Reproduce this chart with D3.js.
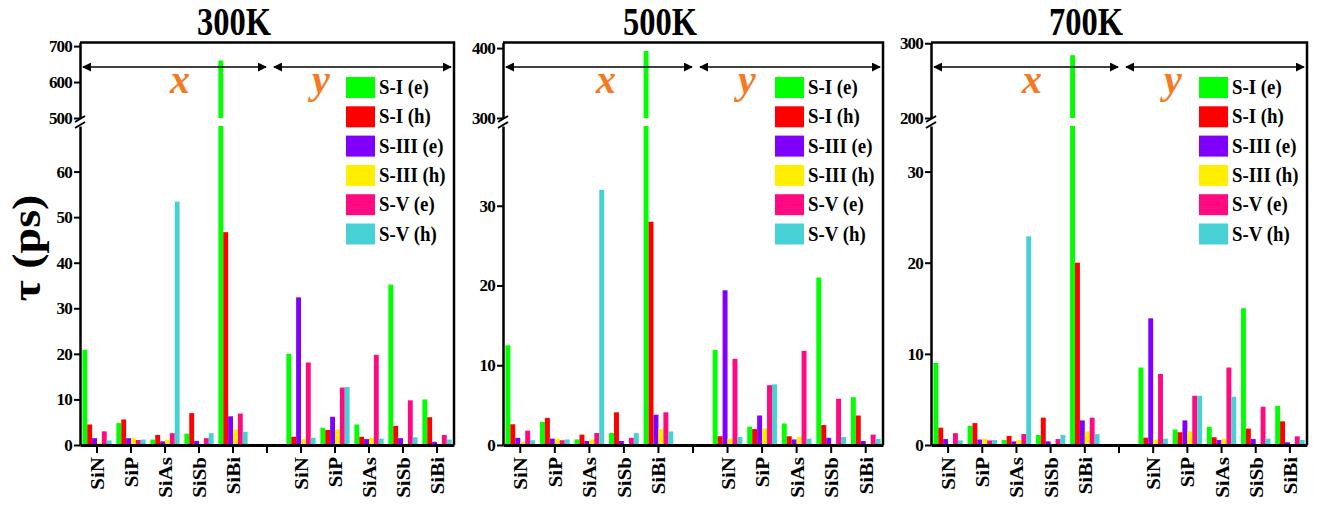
<!DOCTYPE html>
<html><head><meta charset="utf-8">
<script src="https://cdn.jsdelivr.net/npm/d3@7"></script>
<style>
html,body{margin:0;padding:0;background:#fff;}
svg text{font-family:"Liberation Serif","Times New Roman",serif;font-weight:bold;}
</style></head>
<body>
<svg id="chart" width="1317" height="505"></svg>
<script>
// ---------------- data ----------------
const temperatures = ["300K", "500K", "700K"];
const compounds = ["SiN", "SiP", "SiAs", "SiSb", "SiBi"];
const directions = ["x", "y"];
const seriesNames = ["S-I (e)", "S-I (h)", "S-III (e)", "S-III (h)", "S-V (e)", "S-V (h)"];
const seriesColors = ["#00ff00", "#ff0000", "#8000ff", "#ffee00", "#ff0a80", "#48d1d4"];

// values per series: 5 x-direction compounds followed by 5 y-direction compounds
const tau300 = [
  [20.9, 4.8, 1.2, 2.5, 660,   20.0, 3.8, 4.5, 35.2, 10.0],
  [4.5, 5.6, 2.2, 7.0, 46.7,   1.8, 3.3, 1.8, 4.2, 6.1],
  [1.5, 1.5, 0.8, 0.9, 6.3,    32.4, 6.2, 1.3, 1.5, 0.7],
  [0.5, 1.5, 1.2, 0.2, 3.4,    1.3, 3.4, 1.6, 0.3, 0.1],
  [3.0, 1.1, 2.6, 1.5, 6.9,    18.1, 12.6, 19.8, 9.8, 2.2],
  [1.0, 1.2, 53.4, 2.6, 2.9,   1.6, 12.7, 1.4, 1.7, 1.2]
];
const tau500 = [
  [12.5, 2.9, 0.7, 1.5, 396,   11.9, 2.3, 2.7, 21.0, 6.0],
  [2.6, 3.4, 1.3, 4.1, 28.0,   1.1, 2.0, 1.1, 2.5, 3.7],
  [0.9, 0.8, 0.5, 0.5, 3.8,    19.4, 3.7, 0.7, 0.9, 0.5],
  [0.4, 0.8, 0.7, 0.1, 2.0,    0.8, 2.1, 1.0, 0.1, 0.05],
  [1.8, 0.6, 1.5, 0.9, 4.1,    10.8, 7.5, 11.8, 5.8, 1.3],
  [0.6, 0.7, 32.0, 1.5, 1.7,   1.0, 7.6, 0.8, 1.0, 0.75]
];
const tau700 = [
  [9.0, 2.1, 0.55, 1.1, 284,   8.5, 1.7, 2.0, 15.0, 4.3],
  [1.9, 2.4, 1.0, 3.0, 20.0,   0.8, 1.4, 0.85, 1.8, 2.6],
  [0.65, 0.6, 0.4, 0.4, 2.7,   13.9, 2.7, 0.55, 0.65, 0.3],
  [0.1, 0.7, 0.55, 0.1, 1.5,   0.6, 1.5, 0.7, 0.1, 0.05],
  [1.3, 0.5, 1.2, 0.65, 3.0,   7.8, 5.4, 8.5, 4.2, 0.95],
  [0.5, 0.55, 22.9, 1.1, 1.2,  0.7, 5.4, 5.3, 0.7, 0.55]
];
// broken axis: lower and upper domains, tick labels
const lowerDomains = [[0, 70], [0, 40], [0, 35]];
const upperDomains = [[500, 710], [300, 408], [200, 301]];
const lowerTicks = [[0, 10, 20, 30, 40, 50, 60], [0, 10, 20, 30], [0, 10, 20, 30]];
const upperTicks = [[500, 600, 700], [300, 400], [200, 300]];
const panelValues = [tau300, tau500, tau700];

// ---------------- layout ----------------
const frames = [{l: 80, r: 454}, {l: 503, r: 883}, {l: 931, r: 1307}];
const yBottom = 445, yLowTop = 126, yUpBottom = 118, yTop = 42.5;

const svg = d3.select("#chart");

// y-axis title
svg.append("text")
  .attr("transform", "translate(40,248) rotate(-90) scale(1,0.85)")
  .attr("text-anchor", "middle")
  .attr("font-size", 46)
  .text("τ (ps)");

const slots = [];
directions.forEach((d, di) => {
  compounds.forEach(c => slots.push(d + "-" + c));
  if (di === 0) slots.push("gap");
});

temperatures.forEach((temp, pi) => {
  const f = frames[pi];
  const g = svg.append("g");
  const x = d3.scaleBand().domain(slots).range([f.l, f.r]).padding(0);
  const bw = x.bandwidth();
  const xs = d3.scaleBand().domain(seriesNames).range([-bw * 0.43, bw * 0.43]).padding(0);
  const yLow = d3.scaleLinear().domain(lowerDomains[pi]).range([yBottom, yLowTop]);
  const yUp = d3.scaleLinear().domain(upperDomains[pi]).range([yUpBottom, yTop]);
  const lowMax = lowerDomains[pi][1];

  // bars
  const dataSlots = slots.filter(s => s !== "gap");
  seriesNames.forEach((sn, si) => {
    panelValues[pi][si].forEach((v, ci) => {
      const cx = x(dataSlots[ci]) + bw / 2 + xs(sn);
      if (v <= lowMax) {
        g.append("rect").attr("x", cx).attr("width", xs.bandwidth())
          .attr("y", yLow(v)).attr("height", yBottom - yLow(v))
          .attr("fill", seriesColors[si]);
      } else {
        g.append("rect").attr("x", cx).attr("width", xs.bandwidth())
          .attr("y", yLowTop).attr("height", yBottom - yLowTop)
          .attr("fill", seriesColors[si]);
        g.append("rect").attr("x", cx).attr("width", xs.bandwidth())
          .attr("y", yUp(v)).attr("height", yUpBottom - yUp(v))
          .attr("fill", seriesColors[si]);
      }
    });
  });

  // frame: top & right
  g.append("path").attr("d", `M${f.l},${yTop}H${f.r}V${yBottom}`)
    .attr("fill", "none").attr("stroke", "#000").attr("stroke-width", 2.5);

  // bottom axis
  const xAxis = d3.axisBottom(x).tickSize(8).tickSizeOuter(0)
    .tickFormat(() => "");
  const gx = g.append("g").attr("transform", `translate(0,${yBottom})`).call(xAxis);
  gx.select(".domain").attr("stroke-width", 3);
  gx.selectAll(".tick line").attr("stroke-width", 2);
  // rotated category labels
  dataSlots.forEach(s => {
    g.append("text")
      .attr("transform", `translate(${x(s) + bw / 2 + 7},${yBottom + 12}) rotate(-90) scale(1,0.85)`)
      .attr("text-anchor", "end")
      .attr("font-size", 21)
      .text(s.split("-")[1]);
  });

  // left axis lower
  const yAxisL = d3.axisLeft(yLow).tickValues(lowerTicks[pi]).tickSize(6).tickSizeOuter(0)
    .tickFormat(d3.format("d"));
  const gyl = g.append("g").attr("transform", `translate(${f.l},0)`).call(yAxisL);
  // left axis upper
  const yAxisU = d3.axisLeft(yUp).tickValues(upperTicks[pi]).tickSize(6).tickSizeOuter(0)
    .tickFormat(d3.format("d"));
  const gyu = g.append("g").attr("transform", `translate(${f.l},0)`).call(yAxisU);
  [gyl, gyu].forEach(ga => {
    ga.select(".domain").attr("stroke-width", 2.5);
    ga.selectAll(".tick line").attr("stroke-width", 2);
    ga.selectAll(".tick text").attr("font-size", 17).attr("x", -8)
      .attr("font-family", "Liberation Serif").attr("font-weight", "bold")
      .attr("fill", "#000").attr("letter-spacing", -0.8);
  });
  // break marks
  [yUpBottom + 1, yLowTop - 1].forEach(yy => {
    g.append("line").attr("x1", f.l - 5).attr("y1", yy + 3).attr("x2", f.l + 5).attr("y2", yy - 3)
      .attr("stroke", "#000").attr("stroke-width", 2);
  });

  // direction arrows
  const gapC = x("gap") + bw / 2;
  const defsId = "ah" + pi;
  const defs = svg.append("defs");
  defs.append("marker").attr("id", defsId).attr("viewBox", "0 0 10 10")
    .attr("refX", 9).attr("refY", 5).attr("markerWidth", 9).attr("markerHeight", 9)
    .attr("markerUnits", "userSpaceOnUse").attr("orient", "auto-start-reverse")
    .append("path").attr("d", "M0,0L10,5L0,10z").attr("fill", "#000");
  const arrowY = 67;
  [[f.l + 3, gapC - 1], [gapC + 7, f.r - 3]].forEach(([a, b]) => {
    g.append("line").attr("x1", a).attr("x2", b).attr("y1", arrowY).attr("y2", arrowY)
      .attr("stroke", "#000").attr("stroke-width", 1.3)
      .attr("marker-start", `url(#${defsId})`).attr("marker-end", `url(#${defsId})`);
  });
  [["x", gapC - 87], ["y", gapC + 54]].forEach(([t, px]) => {
    g.append("text").attr("x", px).attr("y", 93).attr("text-anchor", "middle")
      .attr("font-size", 40).attr("font-style", "italic").attr("fill", "#f47920")
      .text(t);
  });

  // title
  g.append("text").attr("x", (f.l + f.r) / 2 - 33).attr("y", 35)
    .attr("text-anchor", "middle").attr("font-size", 39)
    .attr("textLength", 74).attr("lengthAdjust", "spacingAndGlyphs")
    .text(temp);

  // legend
  const lx = f.r - 108;
  seriesNames.forEach((sn, si) => {
    const ly = 77 + si * 29.3;
    g.append("rect").attr("x", lx).attr("y", ly).attr("width", 29).attr("height", 21)
      .attr("fill", seriesColors[si]);
    g.append("text").attr("transform", `translate(${lx + 33},${ly + 17}) scale(0.92,1)`)
      .attr("font-size", 20.5).text(sn);
  });
});
</script>
</body></html>
